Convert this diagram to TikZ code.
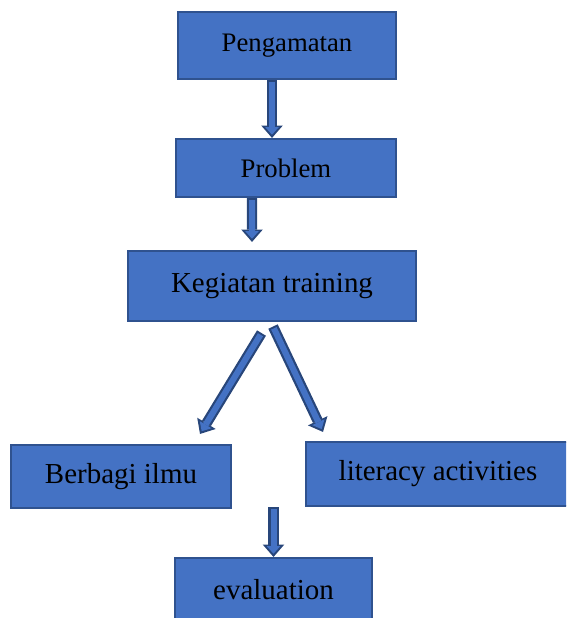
\documentclass[tikz,border=0pt]{standalone}
\usepackage{fontspec}
\setmainfont{Liberation Serif}
\usepackage{tikz}
\usepackage{xcolor}
\usetikzlibrary{arrows.meta}

\definecolor{boxblue}{HTML}{4472C4}
\definecolor{boxedge}{HTML}{2F528F}

\begin{document}
\begin{tikzpicture}[
  stepbox/.style={draw=boxedge, fill=boxblue, line width=1.5pt, inner sep=0pt, font=\fontsize{20.6}{24}\selectfont},
  smallbox/.style={stepbox, font=\fontsize{19}{22}\selectfont},
  blockarrow/.style={draw=boxedge!85!black, line width=0.26cm, -{Triangle[width=0.54cm, length=0.31cm, line width=0pt]}, postaction={draw=boxblue, line width=0.15cm, shorten <=0.05cm, shorten >=0.08cm, -{Triangle[width=0.34cm, length=0.19cm, line width=0pt]}}}
]

\clip (0, 0) rectangle (14.15, -15.45);

\node[smallbox, minimum width=5.45cm, minimum height=1.675cm] (pengamatan) at (7.175, -1.1375) {Pengamatan};
\node[smallbox, minimum width=5.5cm, minimum height=1.45cm] (problem) at (7.15, -4.2) {Problem};
\node[stepbox, minimum width=7.2cm, minimum height=1.75cm] (kegiatan) at (6.8, -7.15) {Kegiatan training};

\node[stepbox, minimum width=5.5cm, minimum height=1.575cm] (berbagi) at (3.025, -11.9125) {Berbagi ilmu};
\node[stepbox, minimum width=6.6cm, minimum height=1.6cm] (literacy) at (10.95, -11.85) {literacy activities};
\node[stepbox, minimum width=4.925cm, minimum height=1.6cm] (evaluation) at (6.8375, -14.75) {evaluation};

\draw[blockarrow] (pengamatan.south -| kegiatan) -- (problem.north -| kegiatan);
\draw[blockarrow] ([xshift=-0.85cm] problem.south) -- ([xshift=-0.5cm, yshift=0.2cm] kegiatan.north);

\draw[blockarrow] ([xshift=-0.2625cm, yshift=-0.275cm] kegiatan.south) -- ([xshift=1.975cm, yshift=0.25cm] berbagi.north);
\draw[blockarrow] ([xshift=0.025cm, yshift=-0.1125cm] kegiatan.south) -- ([xshift=-2.875cm, yshift=0.225cm] literacy.north);

\draw[blockarrow] (evaluation.north |- literacy.south) -- (evaluation.north);

\end{tikzpicture}
\end{document}
